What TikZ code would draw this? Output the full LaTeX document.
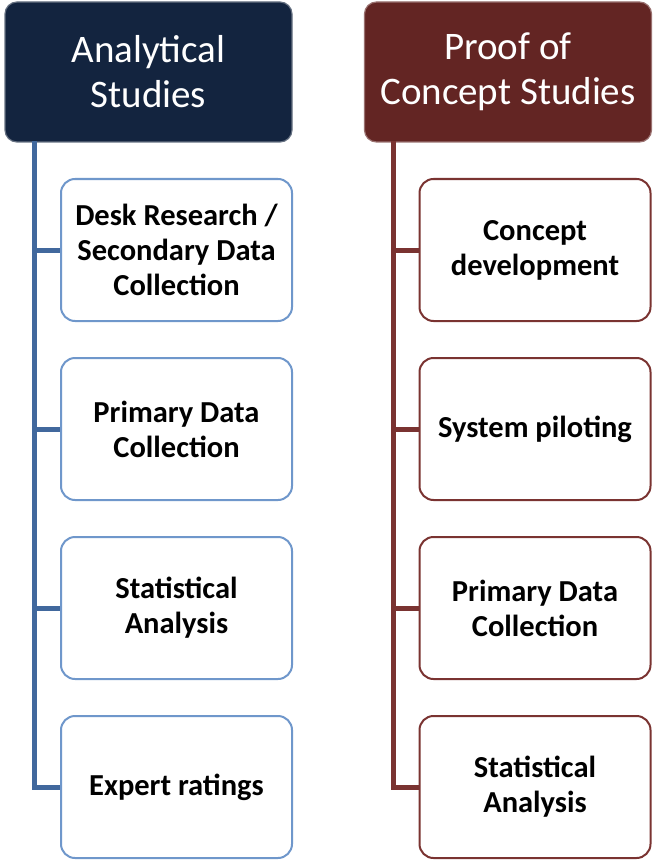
\documentclass[tikz,border=0pt]{standalone}
\usepackage{fontspec}
\setmainfont{Carlito}
\usetikzlibrary{positioning,calc}

\definecolor{navy}{HTML}{13243F}
\definecolor{maroon}{HTML}{632523}
\definecolor{steel}{HTML}{41689D}
\definecolor{lightsteel}{HTML}{6F97CB}
\definecolor{brick}{HTML}{7A3331}

\begin{document}
\begin{tikzpicture}[x=1pt, y=1pt, node distance=35pt, semithick,
    head/.style={rounded corners=12pt, line width=1.2pt, minimum width=287pt, minimum height=140pt,
                 inner sep=0pt, align=center, text=white, font=\fontsize{39}{45}\selectfont},
    item/.style={draw, line width=2pt, fill=white, rounded corners=14pt, minimum width=231pt,
                 minimum height=142pt, inner sep=0pt, align=center, font=\bfseries\fontsize{30.5}{35}\selectfont},
    trunk/.style={line width=5pt}]
    \useasboundingbox (0,0) rectangle (653,-861);

    % the two column heads
    \node[head, fill=navy, draw=navy!65!white]     (analytic) at (148.5,-72)  {Analytical\\Studies};
    \node[head, fill=maroon, draw=maroon!65!white] (concept)  at (508,-72)    {Proof of\\Concept Studies};

    % analytical studies column
    \node[item, draw=lightsteel] (desk)    at (176.5,-250) {Desk Research /\\Secondary Data\\Collection};
    \node[item, draw=lightsteel] (primA)   [below=of desk]  {Primary Data\\Collection};
    \node[item, draw=lightsteel] (statA)   [below=of primA] {Statistical\\Analysis};
    \node[item, draw=lightsteel] (expert)  [below=of statA] {Expert ratings};

    % proof of concept column
    \node[item, draw=brick] (develop) at (535,-250)       {Concept\\development};
    \node[item, draw=brick] (pilot)   [below=of develop]  {System piloting};
    \node[item, draw=brick] (primC)   [below=of pilot]    {Primary Data\\Collection};
    \node[item, draw=brick] (statC)   [below=of primC]    {Statistical\\Analysis};

    \coordinate (rootA) at (34,-141);
    \coordinate (rootC) at (393,-141);

    \draw[trunk, steel] (rootA) |- (expert.west);
    \foreach \n in {desk,primA,statA}
        \draw[trunk, steel] (rootA |- \n.west) -- (\n.west);

    \draw[trunk, brick] (rootC) |- (statC.west);
    \foreach \n in {develop,pilot,primC}
        \draw[trunk, brick] (rootC |- \n.west) -- (\n.west);
\end{tikzpicture}
\end{document}
